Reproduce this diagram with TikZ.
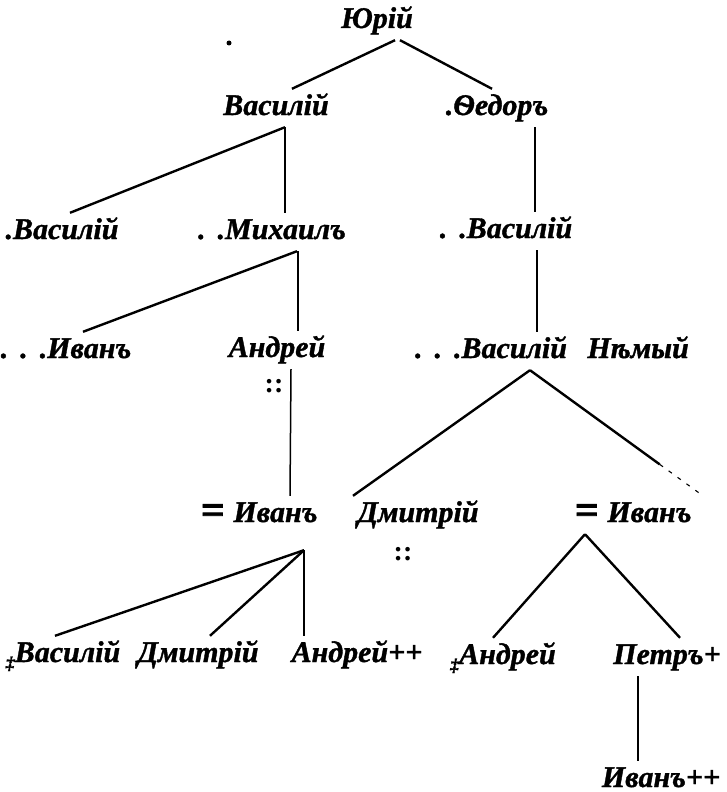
\documentclass[tikz,border=0pt]{standalone}
\usepackage{fontspec}
\setmainfont{Liberation Serif}
\usetikzlibrary{positioning}

\newcommand{\slainmark}{\raisebox{-7pt}{\fontsize{18}{18}\selectfont ‡}}
\newcommand{\lead}{.\hspace{12pt}}
\newcommand{\heavyeq}{\raisebox{-2pt}{\fontsize{42}{42}\selectfont\addfontfeature{FakeBold=2}=}\hspace{9pt}}

\tikzset{
  person/.style={font=\fontsize{30}{31}\selectfont\bfseries\itshape\addfontfeature{FakeBold=1.2},
    text height=20pt, text depth=6pt, inner xsep=1pt, inner ysep=6pt},
  colons/.style={font=\fontsize{28}{28}\selectfont\bfseries, inner sep=0pt},
  speck/.style={circle, fill, inner sep=0pt, minimum size=5pt},
  branch/.style={line width=2.4pt},
  twig/.style={line width=1.5pt},
  faded/.style={line width=1.1pt, dash pattern=on 4pt off 7pt},
}

\begin{document}
\begin{tikzpicture}[x=1pt,y=-1pt]
\useasboundingbox (0,0) rectangle (727,792);
% first two generations
\node[person] (jurij) at (377,21) {Юрій};
\node[speck] (speck) at (229,43) {};
\node[person] (vas1) at (276,108) {Василій};
\node[person] (fedor) at (497,108) {.Ѳедоръ};

\node[person] (vas2) at (62,232) {.Василій};
\node[person] (mich) at (272,232) {\lead.Михаилъ};
\node[person] (vas3) at (506,231) {\lead.Василій};

\node[person] (ivan1) at (66,351) {\lead\lead.Иванъ};
\node[person] (andr1) at (277,350) {Андрей};
\node[person] (vas4) at (491,351) {\lead\lead.Василій};
\node[person] (niemy) [right=18pt of vas4] {Нѣмый};
\node[colons] (col1) at (274,386) {::};

\node[person] (ivan2) at (259,515) {\heavyeq Иванъ};
\node[person] (dmit1) at (418,515) {Дмитрій};
\node[colons] (col2) at (403,554) {::};
\node[person] (ivan3) at (633,515) {\heavyeq Иванъ};

\node[person] (vas5) at (63,655) {\slainmark Василій};
\node[person] (dmit2) at (198,655) {Дмитрій};
\node[person] (andr2) at (357,655) {Андрей++};
\node[person] (andr3) at (503,657) {\slainmark Андрей};
\node[person] (petr) at (667,657) {Петръ+};
\node[person] (ivan4) at (661,780) {Иванъ++};

\path[branch]
([xshift=18pt]jurij.south) edge ([xshift=16pt]vas1.north)
([xshift=23pt]jurij.south) edge ([xshift=-5pt]fedor.north)

([xshift=9pt]vas1.south) edge ([xshift=8pt]vas2.north)
([xshift=9pt]vas1.south) edge ([xshift=13pt]mich.north)
([xshift=38pt]fedor.south) edge ([xshift=29pt]vas3.north)

%%
([xshift=25pt]mich.south) edge ([xshift=17pt]ivan1.north)
([xshift=31pt]vas3.south) edge ([xshift=46pt]vas4.north)
([xshift=39pt]vas4.south) edge ([xshift=-65pt]dmit1.north)

%%%
([xshift=45pt,yshift=-16pt]ivan2.south) edge ([xshift=-8pt]vas5.north)
([xshift=45pt,yshift=-16pt]ivan2.south) edge ([xshift=12pt]dmit2.north)
([xshift=-48pt]ivan3.south) edge ([xshift=-10pt]andr3.north)
([xshift=-48pt]ivan3.south) edge ([xshift=13pt]petr.north)
;
\path[twig]
([xshift=26pt]mich.south) edge ([xshift=21pt]andr1.north)
([xshift=14pt]andr1.south) edge ([xshift=31pt]ivan2.north)
([xshift=45pt,yshift=-16pt]ivan2.south) edge ([xshift=-53pt]andr2.north)
([xshift=-29pt]petr.south) edge ([xshift=-23pt]ivan4.north)
;
% the line to the second Ivan fades out
\path ([xshift=39pt]vas4.south) -- coordinate[pos=.75] (fade) ([xshift=70pt]ivan3.north);
\draw[branch] ([xshift=39pt]vas4.south) -- (fade);
\draw[faded] (fade) -- ([xshift=70pt]ivan3.north);
\end{tikzpicture}
\end{document}
